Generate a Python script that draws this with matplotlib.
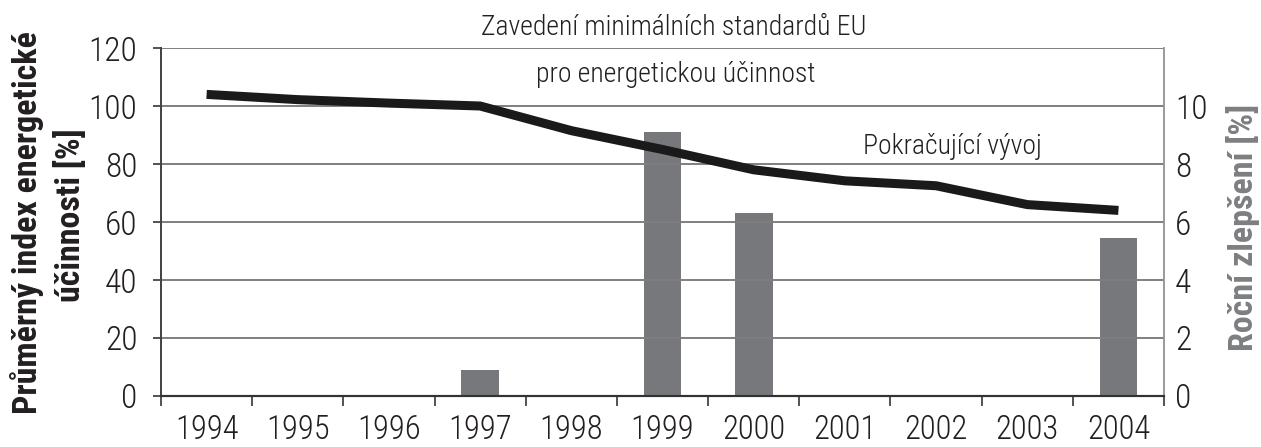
import matplotlib
matplotlib.use("Agg")
import matplotlib.pyplot as plt
from matplotlib import font_manager as fm
import numpy as np

years = ["1994", "1995", "1996", "1997", "1998", "1999", "2000", "2001", "2002", "2003", "2004"]
index_values = [104, 102.2, 101, 100, 91.5, 85, 78, 74.2, 72.5, 66, 64]
bar_years = ["1997", "1999", "2000", "2004"]
bar_values = [0.9, 9.1, 6.3, 5.45]
left_ticks = [0, 20, 40, 60, 80, 100, 120]
right_ticks = [0, 2, 4, 6, 8, 10]

# pick a condensed font if available
names = {f.name for f in fm.fontManager.ttflist}
family = "Liberation Sans"
for cand in ["Liberation Sans Narrow", "Roboto Condensed", "Open Sans Condensed"]:
    if cand in names:
        family = cand
        break
has_light = any(f.name == family and f.weight in (300, "light") for f in fm.fontManager.ttflist)
light = "light" if has_light else "normal"

plt.rcParams["font.family"] = [family, "DejaVu Sans"]

TXT = "#231f20"
fig = plt.figure(figsize=(12.61, 4.47), dpi=100)
ax = fig.add_axes([0.1277, 0.1141, 0.7954, 0.7785])
ax2 = ax.twinx()

x = np.arange(len(years))
bx = [years.index(y) for y in bar_years]

ax2.bar(bx, bar_values, width=0.415, color="#77787b", zorder=2)
ax2.set_ylim(0, 12)
ax2.set_yticks(right_ticks)
ax2.tick_params(axis="y", length=0, labelsize=24, labelcolor=TXT, pad=8)
for lab in ax2.get_yticklabels():
    lab.set_fontweight(light)

ax.set_zorder(ax2.get_zorder() + 1)
ax.patch.set_visible(False)
ax.plot(x, index_values, color="#1a1a1a", lw=6.5, solid_capstyle="butt",
        solid_joinstyle="miter", zorder=5)
ax.set_ylim(0, 120)
ax.set_xlim(-0.5, len(years) - 0.5)
ax.set_yticks(left_ticks)
ax.grid(axis="y", color="#7f7f7f", lw=1.4, zorder=0)
ax.tick_params(axis="y", length=6, width=1.3, color="#444444", labelsize=24,
               labelcolor=TXT, pad=11)
ax.set_xticks(x)
ax.set_xticklabels(years)
ax.set_xticks(np.arange(-0.5, len(years)), minor=True)
ax.tick_params(axis="x", which="major", length=0, labelsize=23.5, pad=13, labelcolor=TXT)
ax.tick_params(axis="x", which="minor", length=7, width=1.3, color="#444444")
for lab in ax.get_yticklabels() + ax.get_xticklabels():
    lab.set_fontweight(light)

for a in (ax, ax2):
    a.spines["top"].set_visible(False)
    a.spines["left"].set_color("#444444")
    a.spines["left"].set_linewidth(1.3)
    a.spines["bottom"].set_color("#333333")
    a.spines["bottom"].set_linewidth(1.5)
    a.spines["right"].set_color("#9a9a9a")
    a.spines["right"].set_linewidth(1.2)

lab_kw = dict(rotation=90, rotation_mode="anchor", ha="center", va="baseline",
              fontsize=24.5, fontweight="bold")
fig.text(0.0293, 0.503, "Průměrný index energetické", color=TXT, **lab_kw)
fig.text(0.0634, 0.519, "účinnosti [%]", color=TXT, **lab_kw)
fig.text(0.9937, 0.492, "Roční zlepšení [%]", color="#7d7e81", **lab_kw)

fig.text(0.534, 0.922, "Zavedení minimálních standardů EU", ha="center", va="baseline",
         fontsize=20, color=TXT, fontweight=light)
fig.text(0.536, 0.8166, "pro energetickou účinnost", ha="center", va="baseline",
         fontsize=20, color=TXT, fontweight=light)
fig.text(0.755, 0.655, "Pokračující vývoj", ha="center", va="baseline",
         fontsize=20, color=TXT, fontweight=light)

fig.savefig("out.png", dpi=100)
